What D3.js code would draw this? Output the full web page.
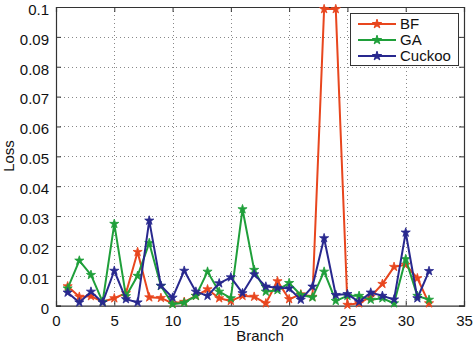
<!DOCTYPE html>
<html>
<head>
<meta charset="utf-8">
<script src="https://cdn.jsdelivr.net/npm/d3@7"></script>
<style>
  html, body { margin: 0; padding: 0; background: #fff; }
  svg { display: block; }
  text { font-family: "Liberation Sans", Arial, Helvetica, sans-serif; fill: #111; }
</style>
</head>
<body>
<svg id="chart" width="474" height="346"></svg>
<script>
const branches = d3.range(1, 33);
const seriesNames = ["BF", "GA", "Cuckoo"];
const bfLoss = [0.0065, 0.003, 0.0032, 0.0013, 0.0025, 0.0042, 0.018, 0.0028, 0.0026, 0.0008,
                0.0013, 0.0033, 0.0055, 0.0025, 0.0016, 0.0033, 0.003, 0.0008, 0.0082, 0.0022,
                0.0038, 0.003, 0.0993, 0.0993, 0.0003, 0.0008, 0.003, 0.0073, 0.013, 0.0137,
                0.0092, 0.0008];
const gaLoss = [0.0058, 0.0151, 0.0103, 0.0013, 0.0274, 0.0032, 0.010, 0.021, 0.0066, 0.0005,
                0.001, 0.0033, 0.0114, 0.0047, 0.0025, 0.0323, 0.012, 0.0047, 0.0052, 0.0076,
                0.0036, 0.0028, 0.0114, 0.0016, 0.0033, 0.0033, 0.002, 0.0025, 0.0008, 0.0156,
                0.0033, 0.002];
const cuckooLoss = [0.0044, 0.0011, 0.0047, 0.0011, 0.0117, 0.0022, 0.0011, 0.0285, 0.0067, 0.0027,
                0.0117, 0.0047, 0.0033, 0.0075, 0.0095, 0.0042, 0.0105, 0.0064, 0.006, 0.0058,
                0.002, 0.0064, 0.0226, 0.0036, 0.0039, 0.0013, 0.0044, 0.0033, 0.0021, 0.0245,
                0.0025, 0.0116];
const xTicks = [0, 5, 10, 15, 20, 25, 30, 35];
const yTicks = [0, 0.01, 0.02, 0.03, 0.04, 0.05, 0.06, 0.07, 0.08, 0.09, 0.1];
const yTickLabels = ["0", "0.01", "0.02", "0.03", "0.04", "0.05", "0.06", "0.07", "0.08", "0.09", "0.1"];
const colors = ["#e8461e", "#1f9f3a", "#28288e"];

const svg = d3.select("#chart");
const L = 56, R = 464, T = 7, B = 305.7;
const x = d3.scaleLinear().domain([0, 35]).range([L, R]);
const y = d3.scaleLinear().domain([0, 0.1]).range([B, T]);

// grid
const grid = svg.append("g").attr("stroke", "#888").attr("stroke-width", 1).attr("stroke-dasharray", "1,3");
grid.selectAll(".gx").data(xTicks.slice(1, -1)).enter().append("line")
  .attr("x1", d => Math.round(x(d)) + 0.5).attr("x2", d => Math.round(x(d)) + 0.5)
  .attr("y1", T).attr("y2", B);
grid.selectAll(".gy").data(yTicks.slice(1, -1)).enter().append("line")
  .attr("y1", d => Math.round(y(d)) + 0.5).attr("y2", d => Math.round(y(d)) + 0.5)
  .attr("x1", L).attr("x2", R);

// axes
const xAxis = d3.axisBottom(x).tickValues(xTicks).tickSize(-5).tickPadding(10).tickFormat(d3.format("d"));
const yAxis = d3.axisLeft(y).tickValues(yTicks).tickSize(-5).tickPadding(7).tickFormat((d, i) => yTickLabels[i]);
const gx = svg.append("g").attr("transform", `translate(0,${B})`).call(xAxis);
const gy = svg.append("g").attr("transform", `translate(${L},0)`).call(yAxis);
gy.selectAll(".tick text").attr("y", 2.5);
svg.append("g").attr("transform", `translate(0,${T})`).call(d3.axisTop(x).tickValues(xTicks).tickSize(-5).tickFormat(""));
svg.append("g").attr("transform", `translate(${R},0)`).call(d3.axisRight(y).tickValues(yTicks).tickSize(-5).tickFormat(""));
svg.selectAll(".domain").attr("stroke", "#333").attr("stroke-width", 1.2);
svg.selectAll(".tick line").attr("stroke", "#333");
svg.selectAll(".tick text").attr("font-size", 15).attr("font-family", "Liberation Sans, Arial, sans-serif").attr("fill", "#111");

// lines
const data = [bfLoss, gaLoss, cuckooLoss];
const line = d3.line().x((d, i) => x(branches[i])).y(d => y(d));
const star = d3.symbol().type(d3.symbolStar).size(26);
data.forEach((vals, k) => {
  const g = svg.append("g");
  g.append("path").datum(vals).attr("d", line).attr("fill", "none")
    .attr("stroke", colors[k]).attr("stroke-width", 2).attr("stroke-linejoin", "round");
  g.selectAll("path.m").data(vals).enter().append("path").attr("class", "m")
    .attr("d", star).attr("transform", (d, i) => `translate(${x(branches[i])},${y(d)})`)
    .attr("fill", colors[k]).attr("stroke", colors[k]).attr("stroke-width", 0.8);
});

// legend
const lg = svg.append("g");
lg.append("rect").attr("x", 350.5).attr("y", 13.5).attr("width", 108).attr("height", 52)
  .attr("fill", "#fff").attr("stroke", "#333").attr("stroke-width", 1);
seriesNames.forEach((n, k) => {
  const yy = 24 + k * 16;
  lg.append("line").attr("x1", 358).attr("x2", 396).attr("y1", yy).attr("y2", yy)
    .attr("stroke", colors[k]).attr("stroke-width", 2);
  lg.append("path").attr("d", star).attr("transform", `translate(377,${yy})`).attr("fill", colors[k]).attr("stroke", colors[k]);
  lg.append("text").attr("x", 400).attr("y", yy).attr("dy", "0.36em").attr("font-size", 15).text(n);
});

// axis titles
svg.append("text").attr("x", (L + R) / 2).attr("y", 341).attr("text-anchor", "middle").attr("font-size", 15).text("Branch");
svg.append("text").attr("transform", "translate(13.5,156) rotate(-90)").attr("text-anchor", "middle").attr("font-size", 15).text("Loss");
</script>
</body>
</html>
